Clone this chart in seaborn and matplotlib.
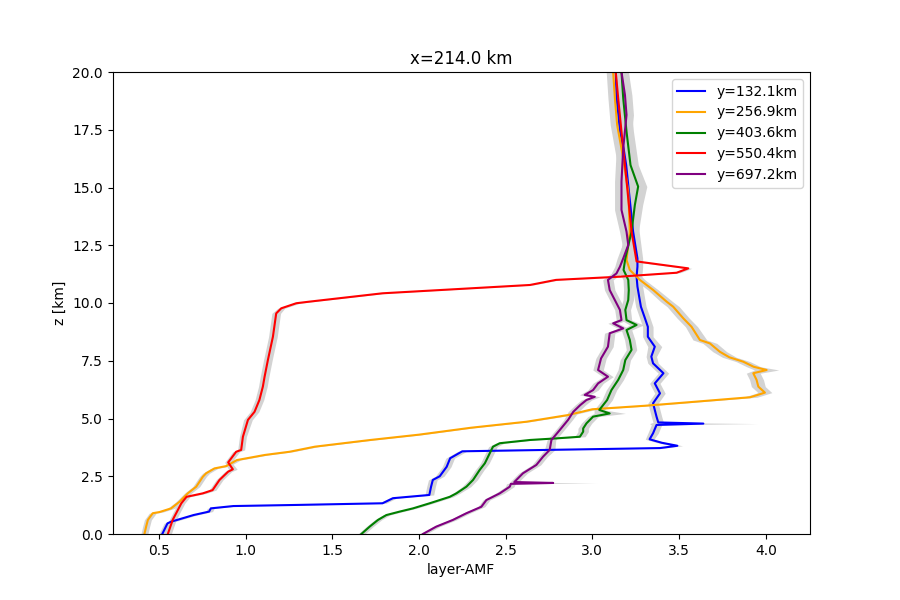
import matplotlib
matplotlib.use("Agg")
import matplotlib.pyplot as plt
import seaborn as sns
import numpy as np
import pandas as pd

title = "x=214.0 km"
labels = ["y=132.1km", "y=256.9km", "y=403.6km", "y=550.4km", "y=697.2km"]
colors = ["blue", "orange", "green", "red", "purple"]

blue_z = [0.00, 0.46, 0.53, 0.82, 0.97, 1.11, 1.21, 1.26, 1.33, 1.55, 1.69, 2.05, 2.34, 2.50, 2.91, 3.28, 3.58, 3.72, 3.82, 3.95,
          4.10, 4.36, 4.72, 4.78, 4.83, 5.08, 5.37, 5.66, 6.09, 6.52, 6.96, 7.39, 7.68, 8.11, 8.54, 8.97, 9.41, 9.84, 10.27, 10.71,
          11.14, 11.57, 11.93, 13.09, 14.53, 15.97, 16.70, 17.42, 18.14, 18.86, 20.00]
blue_amf = [0.52, 0.55, 0.57, 0.70, 0.79, 0.80, 0.93, 1.31, 1.79, 1.85, 2.06, 2.07, 2.08, 2.12, 2.16, 2.18, 2.25, 3.39, 3.49, 3.40,
            3.33, 3.35, 3.37, 3.64, 3.38, 3.37, 3.36, 3.35, 3.39, 3.36, 3.41, 3.35, 3.34, 3.36, 3.32, 3.32, 3.30, 3.28, 3.27, 3.26,
            3.255, 3.26, 3.26, 3.235, 3.215, 3.195, 3.18, 3.16, 3.15, 3.14, 3.135]
blue_err = [0.02, 0.02, 0.02, 0.02, 0.02, 0.02, 0.02, 0.02, 0.02, 0.02, 0.025, 0.025, 0.025, 0.025, 0.025, 0.025, 0.025, 0.025, 0.03, 0.025,
            0.025, 0.03, 0.03, 0.31, 0.03, 0.03, 0.03, 0.03, 0.03, 0.03, 0.03, 0.03, 0.03, 0.04, 0.03, 0.03, 0.03, 0.03, 0.03, 0.03,
            0.03, 0.03, 0.03, 0.035, 0.04, 0.04, 0.04, 0.04, 0.04, 0.04, 0.04]

orange_z = [0.00, 0.32, 0.61, 0.90, 0.95, 1.11, 1.40, 1.76, 2.05, 2.48, 2.63, 2.84, 2.94, 3.20, 3.42, 3.56, 3.78, 4.07, 4.30, 4.60,
            4.86, 5.15, 5.40, 5.55, 5.70, 5.92, 6.12, 6.38, 6.67, 6.96, 7.10, 7.24, 7.46, 7.65, 7.89, 8.25, 8.40, 8.97, 9.34, 9.84,
            10.06, 10.56, 11.00, 11.43, 11.86, 13.09, 14.82, 16.26, 17.71, 18.86, 20.00]
orange_amf = [0.417, 0.427, 0.437, 0.465, 0.504, 0.571, 0.62, 0.667, 0.716, 0.754, 0.773, 0.821, 0.889, 0.95, 1.11, 1.254, 1.40, 1.72, 2.00, 2.30,
              2.62, 2.86, 3.00, 3.30, 3.55, 3.91, 3.995, 3.957, 3.947, 3.928, 4.005, 3.93, 3.87, 3.79, 3.735, 3.678, 3.62, 3.572, 3.524, 3.466,
              3.428, 3.351, 3.274, 3.216, 3.197, 3.216, 3.207, 3.178, 3.143, 3.13, 3.12]
orange_err = [0.02, 0.02, 0.02, 0.02, 0.02, 0.02, 0.02, 0.02, 0.02, 0.02, 0.02, 0.02, 0.02, 0.02, 0.02, 0.02, 0.02, 0.02, 0.02, 0.02,
              0.02, 0.025, 0.025, 0.03, 0.03, 0.04, 0.04, 0.04, 0.04, 0.04, 0.07, 0.04, 0.04, 0.04, 0.04, 0.04, 0.04, 0.035, 0.035, 0.035,
              0.035, 0.03, 0.03, 0.03, 0.03, 0.035, 0.04, 0.04, 0.04, 0.04, 0.04]

green_z = [0.00, 0.32, 0.61, 0.82, 0.97, 1.11, 1.33, 1.61, 1.76, 2.05, 2.34, 2.77, 3.06, 3.49, 3.78, 3.93, 4.07, 4.14, 4.21, 4.43,
           4.57, 4.79, 5.08, 5.22, 5.37, 5.80, 6.23, 6.67, 7.10, 7.53, 7.97, 8.40, 8.83, 9.05, 9.26, 9.70, 10.13, 10.56, 11.00, 11.43,
           11.93, 13.09, 14.24, 15.04, 15.97, 17.42, 18.86, 20.00]
green_amf = [1.668, 1.716, 1.764, 1.812, 1.889, 1.966, 2.062, 2.178, 2.216, 2.274, 2.312, 2.35, 2.38, 2.408, 2.427, 2.466, 2.64, 2.793, 2.928, 2.947,
             2.947, 2.966, 3.004, 3.10, 3.04, 3.085, 3.11, 3.149, 3.178, 3.19, 3.226, 3.216, 3.197, 3.255, 3.197, 3.19, 3.207, 3.21, 3.207, 3.18,
             3.19, 3.226, 3.245, 3.264, 3.22, 3.197, 3.178, 3.168]
green_err = [0.02, 0.02, 0.02, 0.02, 0.02, 0.02, 0.02, 0.02, 0.02, 0.025, 0.025, 0.025, 0.025, 0.025, 0.025, 0.025, 0.025, 0.025, 0.03, 0.03,
             0.03, 0.03, 0.03, 0.09, 0.03, 0.03, 0.03, 0.03, 0.03, 0.03, 0.03, 0.03, 0.03, 0.04, 0.03, 0.03, 0.03, 0.03, 0.03, 0.03,
             0.035, 0.04, 0.045, 0.05, 0.045, 0.04, 0.04, 0.04]

red_z = [0.00, 0.61, 1.33, 1.61, 1.76, 1.90, 2.34, 2.70, 2.80, 3.10, 3.56, 3.64, 4.21, 4.94, 5.29, 5.80, 6.38, 6.81, 7.53, 8.54,
         9.55, 9.77, 9.99, 10.06, 10.42, 10.78, 11.00, 11.14, 11.31, 11.50, 11.80, 13.09, 14.53, 15.97, 17.42, 18.86, 20.00]
red_amf = [0.552, 0.58, 0.63, 0.66, 0.754, 0.81, 0.85, 0.90, 0.927, 0.90, 0.946, 0.975, 0.985, 1.014, 1.052, 1.08, 1.10, 1.11, 1.129, 1.158,
           1.177, 1.206, 1.293, 1.37, 1.79, 2.64, 2.79, 3.16, 3.486, 3.553, 3.255, 3.226, 3.207, 3.188, 3.168, 3.149, 3.135]
red_err = [0.02, 0.02, 0.02, 0.02, 0.02, 0.02, 0.02, 0.02, 0.025, 0.02, 0.02, 0.02, 0.02, 0.025, 0.025, 0.025, 0.025, 0.025, 0.025, 0.025,
           0.025, 0.02, 0.02, 0.02, 0.02, 0.02, 0.02, 0.02, 0.02, 0.02, 0.03, 0.035, 0.04, 0.04, 0.04, 0.04, 0.04]

purple_z = [0.00, 0.32, 0.61, 0.90, 1.18, 1.47, 1.76, 2.05, 2.17, 2.21, 2.25, 2.63, 2.99, 3.35, 3.64, 4.07, 4.50, 4.94, 5.29, 5.58,
            5.80, 5.94, 6.02, 6.23, 6.52, 6.81, 7.10, 7.60, 8.11, 8.69, 8.90, 9.12, 9.26, 9.70, 10.56, 11.00, 11.28, 11.57, 11.93, 12.51,
            13.09, 14.03, 15.25, 16.70, 18.14, 19.00, 20.00]
purple_amf = [2.023, 2.10, 2.196, 2.274, 2.36, 2.389, 2.466, 2.524, 2.53, 2.774, 2.55, 2.60, 2.677, 2.716, 2.754, 2.764, 2.812, 2.86, 2.89, 2.93,
              2.966, 3.014, 2.956, 3.004, 3.033, 3.09, 3.033, 3.05, 3.09, 3.10, 3.178, 3.12, 3.168, 3.159, 3.10, 3.09, 3.139, 3.159, 3.178, 3.207,
              3.197, 3.168, 3.168, 3.178, 3.197, 3.188, 3.168]
purple_err = [0.02, 0.02, 0.02, 0.02, 0.02, 0.02, 0.025, 0.025, 0.025, 0.25, 0.025, 0.025, 0.025, 0.025, 0.03, 0.025, 0.025, 0.025, 0.03, 0.03,
              0.03, 0.03, 0.03, 0.03, 0.03, 0.03, 0.03, 0.03, 0.03, 0.03, 0.03, 0.03, 0.03, 0.03, 0.03, 0.03, 0.03, 0.03, 0.035, 0.035,
              0.04, 0.04, 0.04, 0.04, 0.04, 0.04, 0.04]

series = [
    (blue_z, blue_amf, blue_err),
    (orange_z, orange_amf, orange_err),
    (green_z, green_amf, green_err),
    (red_z, red_amf, red_err),
    (purple_z, purple_amf, purple_err),
]

fig, ax = plt.subplots(figsize=(9, 6), dpi=100)

frames = []
for (z, a, e), lab in zip(series, labels):
    assert len(z) == len(a) == len(e), lab
    frames.append(pd.DataFrame({"z": z, "amf": a, "err": e, "label": lab}))
df = pd.concat(frames, ignore_index=True)

for lab in labels:
    d = df[df["label"] == lab]
    ax.fill_betweenx(d["z"], d["amf"] - d["err"], d["amf"] + d["err"],
                     color="lightgray", linewidth=0)

for lab, col in zip(labels, colors):
    d = df[df["label"] == lab]
    sns.lineplot(data=d, x="amf", y="z", orient="y", sort=False, estimator=None,
                 color=col, linewidth=1.5, label=lab, ax=ax)

ax.set_xlim(0.233, 4.255)
ax.set_ylim(0, 20)
ax.set_xlabel("layer-AMF")
ax.set_ylabel("z [km]")
ax.set_title(title)
ax.legend(loc="upper right")
fig.savefig("out.png", dpi=100)
